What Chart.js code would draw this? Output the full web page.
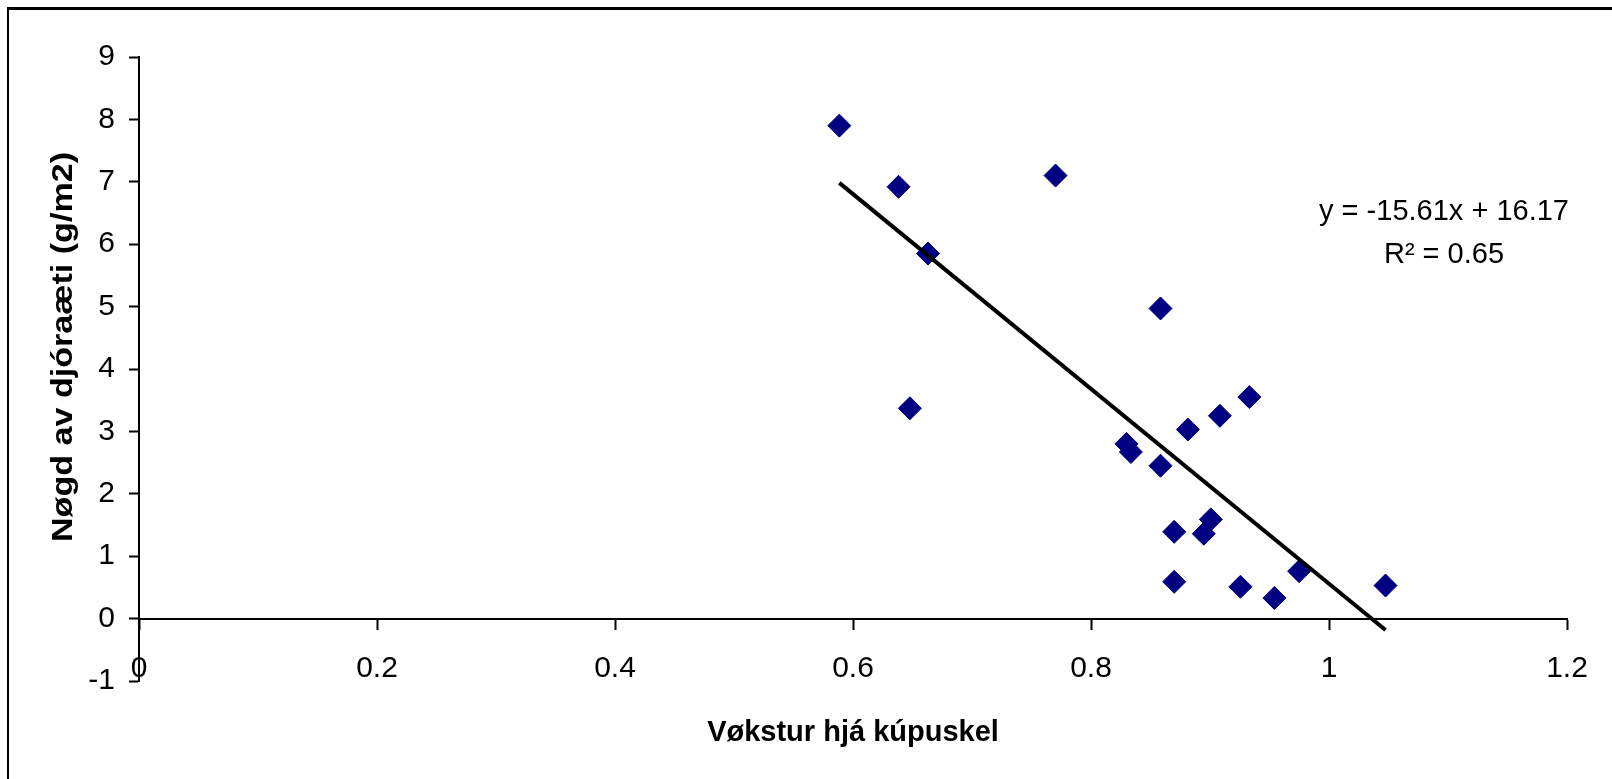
<!DOCTYPE html>
<html>
<head>
<meta charset="utf-8">
<script src="https://cdn.jsdelivr.net/npm/chart.js@4.4.1/dist/chart.umd.min.js"></script>
<style>
html,body{margin:0;padding:0;background:#fff;overflow:hidden}
#wrap{position:relative;width:1612px;height:779px}
</style>
</head>
<body>
<div id="wrap"><canvas id="c" width="1612" height="779"></canvas></div>
<script>
// ---- data ----
const growthX = [0.5885, 0.6383, 0.7702, 0.6630, 0.6478, 0.8584, 0.9331, 0.9083, 0.8814, 0.8298,
                 0.8335, 0.8584, 0.9007, 0.8948, 0.8699, 0.8699, 0.9256, 0.9541, 0.9749, 1.0475];
const foodY   = [7.90, 6.92, 7.10, 5.85, 3.37, 4.97, 3.55, 3.25, 3.03, 2.80,
                 2.67, 2.45, 1.59, 1.36, 1.39, 0.59, 0.51, 0.33, 0.76, 0.53];
const trendSlope = -15.61;
const trendIntercept = 16.17;
const trendR2 = 0.65;
const xTicks = [0, 0.2, 0.4, 0.6, 0.8, 1, 1.2];
const xTickLabels = ['0', '0.2', '0.4', '0.6', '0.8', '1', '1.2'];
const yTicks = [-1, 0, 1, 2, 3, 4, 5, 6, 7, 8, 9];
const yTickLabels = ['-1', '0', '1', '2', '3', '4', '5', '6', '7', '8', '9'];
const xTitle = 'Vøkstur hjá kúpuskel';
const yTitle = 'Nøgd av djóraæti (g/m2)';

// ---- build ----
const FONT = '"Liberation Sans", Arial, sans-serif';
const points = growthX.map((x, i) => ({x: x, y: foodY[i]}));
const xMin = Math.min(...growthX), xMax = Math.max(...growthX);
const trend = [xMin, xMax].map(x => ({x: x, y: trendSlope * x + trendIntercept}));
const fmt = v => v.toFixed(2);
const eqLine1 = 'y = ' + fmt(trendSlope) + 'x + ' + fmt(trendIntercept);
const eqLine2 = 'R\u00B2 = ' + fmt(trendR2);

const deco = {
  id: 'deco',
  beforeDraw(chart) {
    const ctx = chart.ctx;
    ctx.save();
    ctx.fillStyle = '#fff';
    ctx.fillRect(0, 0, chart.width, chart.height);
    ctx.fillStyle = '#000';
    ctx.fillRect(7, 7, chart.width, 3);
    ctx.fillRect(7, 7, 2, chart.height);
    ctx.restore();
  },
  afterDraw(chart) {
    const ctx = chart.ctx;
    const a = chart.chartArea;
    ctx.save();
    ctx.fillStyle = '#000';
    ctx.font = 'bold 29px ' + FONT;
    ctx.textAlign = 'center';
    ctx.textBaseline = 'alphabetic';
    ctx.fillText(xTitle, (a.left + a.right) / 2, 741);
    // y title (rotated), spread to the length seen in the reference
    ctx.save();
    const w = ctx.measureText(yTitle).width;
    ctx.translate(72, 347);
    ctx.rotate(-Math.PI / 2);
    ctx.scale(390 / w, 1);
    ctx.fillText(yTitle, 0, 0);
    ctx.restore();
    ctx.font = '29px ' + FONT;
    ctx.fillText(eqLine1, 1444, 220);
    ctx.fillText(eqLine2, 1444, 263);
    ctx.restore();
  }
};

const axisCommon = {
  type: 'linear',
  grid: {drawOnChartArea: false, drawTicks: true, tickLength: 10, tickWidth: 2, tickColor: '#000', color: '#000'},
  border: {display: true, color: '#000', width: 2},
};

new Chart(document.getElementById('c'), {
  type: 'scatter',
  data: {
    datasets: [
      {
        type: 'line',
        label: 'trend',
        data: trend,
        borderColor: '#000',
        borderWidth: 4,
        pointRadius: 0,
        fill: false,
        order: 0
      },
      {
        label: 'points',
        data: points,
        pointStyle: 'rectRot',
        pointRadius: 11.5,
        pointHoverRadius: 11.5,
        backgroundColor: '#000080',
        borderColor: '#000080',
        borderWidth: 1,
        order: 1
      }
    ]
  },
  options: {
    responsive: false,
    devicePixelRatio: 1,
    animation: false,
    events: [],
    layout: {padding: {top: 57, right: 45, bottom: 98, left: 0}},
    plugins: {legend: {display: false}, tooltip: {enabled: false}, title: {display: false}},
    scales: {
      x: Object.assign({}, axisCommon, {
        min: 0, max: 1.2,
        position: {y: 0},
        afterBuildTicks: s => { s.ticks = xTicks.map(v => ({value: v})); },
        ticks: {
          callback: (v, i) => xTickLabels[i],
          font: {family: FONT, size: 30},
          color: '#000',
          padding: 22,
          maxRotation: 0,
          autoSkip: false
        }
      }),
      y: Object.assign({}, axisCommon, {
        min: -1, max: 9,
        position: 'left',
        afterBuildTicks: s => { s.ticks = yTicks.map(v => ({value: v})); },
        afterFit: s => { s.width = 139; },
        ticks: {
          callback: (v, i) => yTickLabels[i],
          font: {family: FONT, size: 30},
          color: '#000',
          padding: 14,
          autoSkip: false
        }
      })
    }
  },
  plugins: [deco]
});
</script>
</body>
</html>
